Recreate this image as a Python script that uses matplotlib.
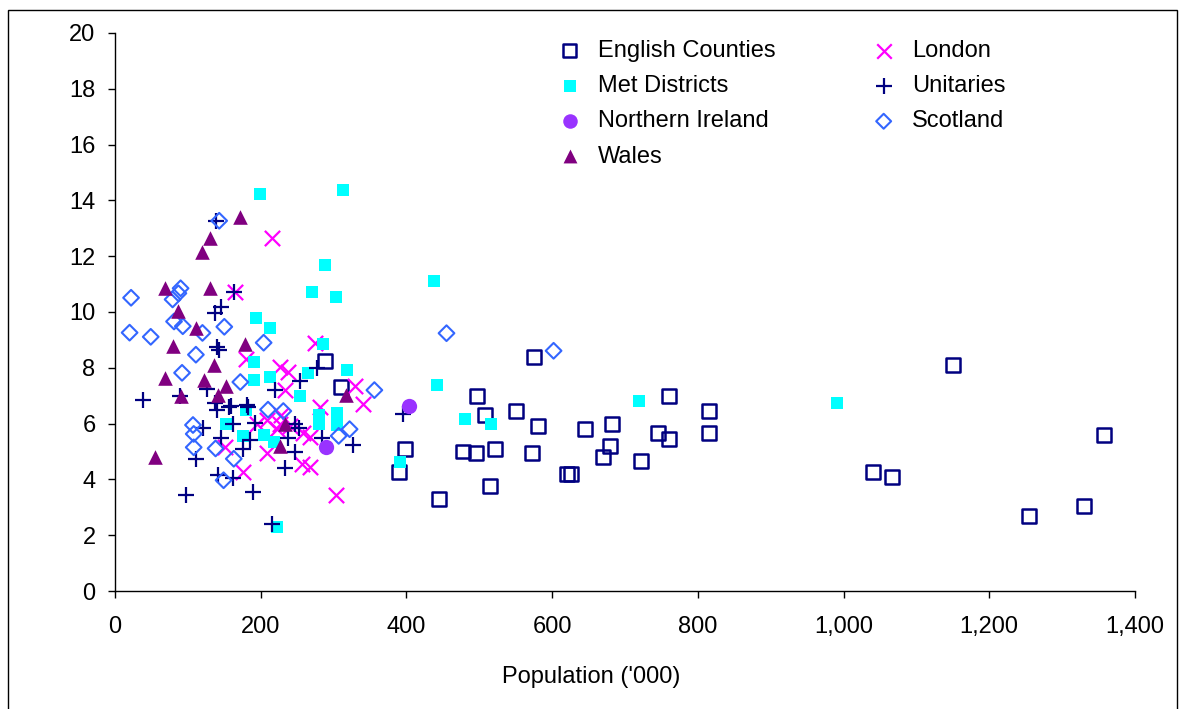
import matplotlib.pyplot as plt
from matplotlib.patches import Rectangle
from matplotlib.ticker import FuncFormatter

# English Counties
eng_x = [1150, 1358, 1330, 1255, 1040, 1067, 815, 815, 760, 760, 745, 722, 682, 680, 670,
         645, 620, 626, 580, 575, 572, 550, 522, 515, 497, 495, 478, 508, 445, 398, 390,
         288, 310]
eng_y = [8.1, 5.6, 3.05, 2.7, 4.25, 4.1, 6.45, 5.65, 7.0, 5.45, 5.65, 4.65, 6.0, 5.2, 4.8,
         5.8, 4.2, 4.2, 5.9, 8.4, 4.95, 6.45, 5.1, 3.75, 7.0, 4.95, 5.0, 6.3, 3.3, 5.1, 4.25,
         8.25, 7.3]

# Met Districts
met_x = [199, 313, 438, 288, 270, 304, 194, 213, 286, 191, 318, 191, 213, 265, 254, 280,
         305, 280, 305, 175, 204, 218, 152, 222, 391, 442, 480, 516, 719, 991, 180]
met_y = [14.23, 14.37, 11.12, 11.68, 10.7, 10.55, 9.77, 9.41, 8.86, 8.22, 7.92, 7.56, 7.66,
         7.8, 7.0, 6.31, 6.38, 6.0, 5.95, 5.57, 5.6, 5.34, 5.97, 2.28, 4.64, 7.38, 6.18,
         5.97, 6.82, 6.74, 6.5]

# Northern Ireland
ni_x = [403, 290]
ni_y = [6.64, 5.17]

# Wales
wal_x = [171, 130, 120, 68, 130, 87, 111, 79, 179, 136, 68, 122, 152, 90, 141, 55, 233,
         226, 317]
wal_y = [13.42, 12.64, 12.16, 10.85, 10.85, 10.03, 9.42, 8.77, 8.85, 8.09, 7.62, 7.55,
         7.35, 6.98, 7.02, 4.81, 5.97, 5.19, 7.03]

# London
lon_x = [216, 165, 275, 180, 226, 237, 329, 341, 281, 208, 226, 258, 268, 151, 208, 176,
         256, 268, 303, 228, 240, 222, 195, 233]
lon_y = [12.64, 10.7, 8.9, 8.3, 8.04, 7.85, 7.36, 6.7, 6.6, 6.13, 6.0, 5.65, 5.53, 5.15,
         4.93, 4.25, 4.55, 4.45, 3.45, 6.3, 5.9, 5.8, 6.0, 7.2]

# Unitaries
uni_x = [139, 163, 137, 146, 140, 143, 38, 89, 126, 137, 140, 159, 181, 162, 121, 146,
         111, 142, 162, 98, 175, 220, 233, 247, 216, 190, 183, 192, 247, 252, 238, 326,
         277, 254, 395, 284, 185, 156]
uni_y = [13.27, 10.7, 9.97, 10.19, 8.76, 8.64, 6.85, 7.0, 7.24, 6.73, 6.49, 6.63, 6.67,
         5.99, 5.83, 5.5, 4.73, 4.16, 4.04, 3.44, 5.08, 7.2, 4.4, 5.0, 2.4, 3.56, 6.6, 6.01,
         6.0, 5.83, 5.5, 5.23, 7.98, 7.54, 6.34, 5.5, 5.4, 6.6]

# Scotland
sco_x = [143, 22, 79, 87, 90, 20, 49, 81, 93, 120, 150, 204, 111, 92, 172, 210, 231, 107,
         108, 108, 138, 163, 149, 356, 307, 322, 455, 602]
sco_y = [13.27, 10.51, 10.45, 10.67, 10.85, 9.26, 9.11, 9.66, 9.49, 9.25, 9.47, 8.9, 8.47,
         7.82, 7.49, 6.5, 6.45, 5.95, 5.63, 5.15, 5.11, 4.74, 3.97, 7.2, 5.56, 5.8, 9.24,
         8.61]

plt.rcParams['font.family'] = ['Liberation Sans', 'DejaVu Sans']
FS = 17

fig = plt.figure(figsize=(11.81, 7.09), dpi=100)
ax = fig.add_axes([0.0974, 0.1664, 0.8636, 0.7871])

# orden de dibujo como en la hoja original
h_eng = ax.scatter(eng_x, eng_y, s=10**2, marker='s', facecolors='none',
                   edgecolors='#000080', linewidths=1.8, label='English Counties')
h_lon = ax.scatter(lon_x, lon_y, s=11**2, marker='x', color='#FF00FF',
                   linewidths=1.6, label='London')
h_met = ax.scatter(met_x, met_y, s=8.5**2, marker='s', color='#00FFFF',
                   linewidths=0, label='Met Districts')
h_uni = ax.scatter(uni_x, uni_y, s=12**2, marker='+', color='#000080',
                   linewidths=1.6, label='Unitaries')
h_ni = ax.scatter(ni_x, ni_y, s=11**2, marker='o', color='#9933FF',
                  linewidths=0, label='Northern Ireland')
h_sco = ax.scatter(sco_x, sco_y, s=8**2, marker='D', facecolors='none',
                   edgecolors='#3366FF', linewidths=1.5, label='Scotland')
h_wal = ax.scatter(wal_x, wal_y, s=10.5**2, marker='^', color='#800080',
                   linewidths=0, label='Wales')

ax.set_xlim(0, 1400)
ax.set_ylim(0, 20)
ax.set_xticks(range(0, 1401, 200))
ax.set_yticks(range(0, 21, 2))
ax.xaxis.set_major_formatter(FuncFormatter(lambda v, p: f'{int(v):,}'))
ax.tick_params(direction='out', length=5, width=1, labelsize=FS)
ax.tick_params(axis='x', pad=13)
ax.tick_params(axis='y', pad=9)
for s in ['top', 'right']:
    ax.spines[s].set_visible(False)
for s in ['left', 'bottom']:
    ax.spines[s].set_linewidth(1)

handles = [h_eng, h_met, h_ni, h_wal, h_lon, h_uni, h_sco]
ax.legend(handles=handles, ncol=2, loc='upper left',
          bbox_to_anchor=(558 / 1181, 1 - 40 / 709), bbox_transform=fig.transFigure,
          frameon=False, fontsize=FS, markerscale=0.95, handlelength=1.0,
          handletextpad=0.69, columnspacing=4.08, labelspacing=0.56,
          borderpad=0, borderaxespad=0)

fig.text(591 / 1181, 1 - 677 / 709, "Population ('000)", ha='center', va='center',
         fontsize=FS)

# marco de la figura
fig.patches.append(Rectangle((8 / 1181, -0.05), 1169 / 1181, 1.05 - 10 / 709,
                             transform=fig.transFigure, fill=False,
                             edgecolor='black', linewidth=1))

fig.savefig('out.png', dpi=100)
